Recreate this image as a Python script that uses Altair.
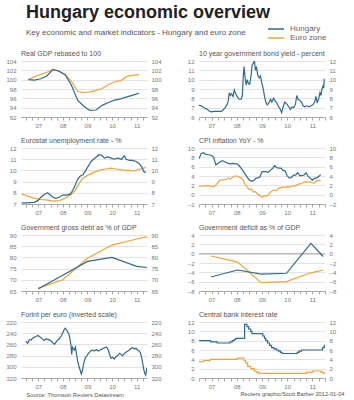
import altair as alt
import pandas as pd

FONT = "Liberation Sans"
BLUE = "#2e6b8d"
ORANGE = "#efa434"
SERIES = ["Hungary", "Euro zone"]

# ---------------- data ----------------
GDP_T = [2007.1, 2007.35, 2007.6, 2007.85, 2008.1, 2008.35, 2008.6, 2008.85, 2009.1, 2009.35,
         2009.6, 2009.85, 2010.1, 2010.35, 2010.6, 2010.85, 2011.1, 2011.35, 2011.6]
GDP_HU = [100.0, 99.9, 100.2, 100.8, 102.2, 101.8, 101.0, 98.8, 95.6, 94.3,
          93.4, 93.5, 94.5, 95.1, 95.6, 95.9, 96.3, 96.7, 97.1]
GDP_EU = [100.0, 100.6, 101.1, 101.6, 102.2, 101.8, 101.1, 99.6, 97.5, 97.2,
          97.4, 97.7, 98.1, 98.9, 99.5, 99.8, 100.7, 100.9, 101.1]

BOND_T = [2007.00, 2007.09, 2007.20, 2007.31, 2007.40, 2007.49, 2007.60, 2007.71, 2007.80, 2007.89, 2007.97,
          2008.04, 2008.11, 2008.16, 2008.20, 2008.24, 2008.29, 2008.35, 2008.40, 2008.44, 2008.51, 2008.59,
          2008.67, 2008.72, 2008.76, 2008.79, 2008.83, 2008.87, 2008.91, 2008.96, 2009.01, 2009.07, 2009.11,
          2009.16, 2009.20, 2009.24, 2009.28, 2009.33, 2009.39, 2009.44, 2009.49, 2009.55, 2009.60, 2009.65,
          2009.71, 2009.77, 2009.84, 2009.89, 2009.96, 2010.03, 2010.09, 2010.16, 2010.23, 2010.28, 2010.33,
          2010.40, 2010.48, 2010.56, 2010.63, 2010.69, 2010.76, 2010.83, 2010.88, 2010.93, 2011.00, 2011.07,
          2011.13, 2011.20, 2011.28, 2011.36, 2011.44, 2011.52, 2011.59, 2011.64, 2011.69, 2011.75, 2011.80,
          2011.84, 2011.88, 2011.92, 2011.95, 2011.97]
BOND_HU = [7.25, 7.2, 7.0, 6.85, 6.65, 6.55, 6.6, 6.6, 6.6, 6.6, 6.8,
           7.0, 7.3, 7.7, 8.6, 8.3, 8.5, 8.2, 8.9, 8.6, 8.2, 7.9,
           7.9, 8.3, 10.5, 11.4, 10.2, 9.4, 10.0, 9.6, 9.5, 10.5, 11.6,
           11.8, 12.0, 11.0, 11.4, 10.5, 10.2, 10.4, 9.7, 9.0, 8.2, 7.6,
           7.3, 7.5, 7.9, 7.6, 8.0, 7.7, 7.5, 7.1, 6.8, 6.45, 7.0,
           7.6, 7.4, 7.1, 6.8, 7.1, 7.0, 7.4, 8.3, 7.9, 7.8, 7.6,
           7.2, 7.1, 7.2, 7.1, 7.2, 7.3, 7.6, 8.2, 7.5, 8.0, 8.6,
           8.3, 9.0, 9.3, 9.1, 10.1]

UNEMP_HU_T = [2006.83, 2007.07, 2007.34, 2007.48, 2007.61, 2007.78, 2007.88, 2007.99,
              2008.10, 2008.22, 2008.36, 2008.49, 2008.67, 2008.81, 2008.90, 2008.99,
              2009.10, 2009.21, 2009.32, 2009.43, 2009.54, 2009.65, 2009.75, 2009.86, 2009.97,
              2010.08, 2010.19, 2010.32, 2010.46, 2010.59, 2010.73, 2010.89,
              2011.00, 2011.07, 2011.20, 2011.34, 2011.47, 2011.61, 2011.71, 2011.79, 2011.87]
UNEMP_HU = [7.1, 7.1, 7.15, 7.3, 7.6, 7.9, 8.0, 7.8,
            7.6, 7.5, 7.6, 7.8, 7.8, 7.9, 8.2, 8.6,
            9.2, 9.5, 9.6, 10.0, 10.4, 10.8, 11.0, 11.2, 11.4,
            11.35, 11.1, 11.2, 11.1, 11.0, 11.1, 11.0,
            11.3, 11.0, 10.9, 10.9, 10.8, 10.6, 10.3, 9.9, 9.8]
UNEMP_EU_T = [2006.83, 2007.07, 2007.34, 2007.61, 2007.88, 2008.10, 2008.36, 2008.58, 2008.81,
              2008.99, 2009.10, 2009.21, 2009.32, 2009.54, 2009.75, 2009.97, 2010.19, 2010.46,
              2010.73, 2011.00, 2011.20, 2011.34, 2011.47, 2011.61, 2011.79, 2011.87]
UNEMP_EU = [7.9, 7.7, 7.5, 7.4, 7.35, 7.25, 7.3, 7.5, 7.8,
            8.2, 8.6, 9.0, 9.3, 9.6, 9.8, 10.0, 10.1, 10.2,
            10.1, 10.0, 10.0, 9.95, 10.0, 10.1, 10.2, 10.3]

MONTHS = [round(y + m / 12, 3) for y in range(2007, 2012) for m in range(12)][:59]
CPI_HU = [7.7, 8.8, 9.0, 8.7, 8.6, 8.5, 8.4, 8.0, 6.4, 6.7, 7.0, 7.3,
          7.1, 6.9, 6.7, 6.6, 6.7, 6.6, 6.6, 6.3, 5.7, 5.1, 4.4, 3.7,
          3.1, 2.9, 3.0, 3.5, 3.6, 3.8, 4.9, 5.0, 4.9, 4.8, 5.2, 5.6,
          6.2, 5.8, 5.7, 5.7, 5.2, 5.1, 4.0, 3.6, 3.7, 4.2, 4.2, 4.7,
          4.1, 4.1, 4.2, 4.7, 3.9, 3.5, 3.1, 3.5, 3.6, 3.9, 4.3]
CPI_EU = [1.8, 1.8, 1.9, 1.9, 1.9, 1.9, 1.8, 1.7, 2.1, 2.6, 3.1, 3.1,
          3.2, 3.3, 3.6, 3.3, 3.7, 4.0, 4.0, 3.8, 3.6, 3.2, 2.1, 1.6,
          1.1, 1.2, 0.6, 0.6, 0.0, -0.1, -0.6, -0.2, -0.3, -0.1, 0.5, 0.9,
          1.0, 0.9, 1.4, 1.5, 1.6, 1.5, 1.7, 1.6, 1.8, 1.9, 1.9, 2.2,
          2.3, 2.4, 2.7, 2.8, 2.7, 2.7, 2.5, 2.5, 3.0, 3.0, 3.0]

DEBT_T = [2007.5, 2008.5, 2009.5, 2010.5, 2011.5, 2011.92]
DEBT_HU = [66.0, 72.0, 78.2, 80.0, 76.0, 75.5]
DEBT_EU = [66.2, 70.0, 79.6, 85.5, 88.2, 89.2]

DEF_T = [2007.47, 2008.53, 2009.47, 2010.47, 2011.44, 2011.93]
DEF_HU = [-5.0, -3.5, -4.4, -4.2, 2.2, -0.6]
DEF_EU = [-0.5, -1.8, -6.2, -6.0, -4.1, -3.5]
ZERO = [0]

FX_T = [2007.00, 2007.07, 2007.14, 2007.21, 2007.27, 2007.34, 2007.41, 2007.48, 2007.55, 2007.61,
        2007.68, 2007.75, 2007.82, 2007.88, 2007.95,
        2008.02, 2008.09, 2008.16, 2008.22, 2008.29, 2008.36, 2008.43, 2008.49, 2008.56, 2008.60,
        2008.66, 2008.70, 2008.75, 2008.79, 2008.83, 2008.86, 2008.89, 2008.93, 2008.97,
        2009.01, 2009.05, 2009.10, 2009.16, 2009.21, 2009.25, 2009.29, 2009.33, 2009.37, 2009.43,
        2009.48, 2009.54, 2009.62, 2009.70, 2009.78, 2009.86, 2009.94,
        2010.02, 2010.11, 2010.19, 2010.27, 2010.35, 2010.40, 2010.46, 2010.53, 2010.59, 2010.66,
        2010.73, 2010.80, 2010.87, 2010.93,
        2011.00, 2011.07, 2011.14, 2011.20, 2011.27, 2011.34, 2011.41, 2011.47, 2011.54, 2011.61,
        2011.66, 2011.71, 2011.75, 2011.79, 2011.83, 2011.87, 2011.90, 2011.92]
FX_HU = [254, 258, 252, 252, 249, 247, 246, 244, 246, 248, 251, 253, 250, 251, 252,
         254, 257, 260, 256, 252, 250, 245, 240, 233, 231, 235, 238, 242, 250, 262, 278, 265, 268, 270,
         265, 275, 290, 300, 307, 313, 308, 298, 290, 282, 280, 276, 272, 270, 272, 269, 272,
         270, 268, 266, 265, 270, 278, 285, 283, 286, 282, 280, 276, 278, 280,
         276, 274, 272, 270, 267, 266, 268, 267, 270, 272, 276, 285, 295, 305, 312, 315, 305, 302]

RATE_HU_T = [2007.00, 2007.46, 2007.72, 2008.23, 2008.32, 2008.40, 2008.46, 2008.81, 2008.90, 2008.97,
             2009.05, 2009.10, 2009.53, 2009.60, 2009.65, 2009.72, 2009.80, 2009.88, 2009.97, 2010.07,
             2010.15, 2010.23, 2010.30, 2010.90, 2010.97, 2011.07, 2011.90, 2011.97, 2012.00]
RATE_HU = [8.0, 7.75, 7.5, 7.75, 8.0, 8.25, 8.5, 11.5, 11.0, 10.5,
           10.0, 9.5, 9.0, 8.5, 8.0, 7.5, 7.0, 6.5, 6.25, 6.0,
           5.75, 5.5, 5.25, 5.5, 5.75, 6.0, 6.5, 7.0, 7.0]
RATE_EU_T = [2007.00, 2007.19, 2007.45, 2008.52, 2008.78, 2008.85, 2008.93, 2009.05, 2009.19, 2009.27,
             2009.37, 2011.27, 2011.52, 2011.84, 2011.94, 2012.00]
RATE_EU = [3.5, 3.75, 4.0, 4.25, 3.75, 3.25, 2.5, 2.0, 1.5, 1.25, 1.0, 1.25, 1.5, 1.25, 1.0, 1.0]

TITLE = "Hungary economic overview"
SUBTITLE = "Key economic and market indicators - Hungary and euro zone"
SOURCE = "Source: Thomson Reuters Datastream"
CREDIT = "Reuters graphic/Scott Barber 2012-01-04"

# ---------------- layout ----------------
LEFT_DOM = [2006.8, 2011.92]
RIGHT_DOM = [2007.0, 2012.0]
W, H = 126, 56
LABEL_EXPR = "datum.value % 1 == 0.5 ? substring(format(floor(datum.value), 'd'), 2, 4) : ''"


def series_df(hu_t, hu_v, eu_t=None, eu_v=None):
    parts = []
    if eu_t is not None:
        parts.append(pd.DataFrame({"t": eu_t, "v": eu_v, "s": "Euro zone"}))
    parts.append(pd.DataFrame({"t": hu_t, "v": hu_v, "s": "Hungary"}))
    return pd.concat(parts, ignore_index=True)


LEGEND = alt.Legend(orient="none", legendX=250, legendY=-37, title=None, labelFont=FONT,
                    labelFontSize=8, labelColor="#666", symbolType="M-2,0L2,0", symbolSize=64,
                    symbolStrokeWidth=1.5, rowPadding=0, labelOffset=9)


def x_axis(dom, foot=None):
    vals = [2007 + 0.25 * q for q in range(21) if dom[0] <= 2007 + 0.25 * q <= dom[1]]
    kw = dict(values=vals, labelExpr=LABEL_EXPR, tickSize=3, tickColor="#aaa", domainColor="#aaa",
              labelFont=FONT, labelFontSize=6, labelColor="#777", labelPadding=2,
              labelOverlap=False, labelFlush=False, grid=False)
    if foot is not None:
        kw.update(title=foot[0], titleFont=FONT, titleFontSize=5.7, titleFontWeight="normal",
                  titleColor="#555", titleAlign=foot[1], titleX=foot[2], titleY=foot[3],
                  titleBaseline="middle", titleAnchor="start")
    else:
        kw.update(title=None)
    return alt.Axis(**kw)


def panel(df, title, dom, ydom, yvals, reverse=False, foot=None, step=False, zero=False):
    xenc = alt.X("t:Q", scale=alt.Scale(domain=dom, nice=False, zero=False), axis=x_axis(dom, foot))
    ysc = alt.Scale(domain=ydom, nice=False, zero=False, reverse=reverse)
    lab = dict(labelFont=FONT, labelFontSize=6, labelColor="#777", ticks=False, domain=False,
               values=yvals, title=None)
    yl = alt.Y("v:Q", scale=ysc, axis=alt.Axis(orient="left", grid=True, gridColor="#dcdcdc",
                                              gridWidth=0.8, labelPadding=5, **lab))
    yr = alt.Y("v:Q", scale=ysc, axis=alt.Axis(orient="right", grid=False, labelPadding=4, **lab))
    interp = "step-after" if step else "linear"
    col = alt.Color("s:N", scale=alt.Scale(domain=SERIES, range=[BLUE, ORANGE]), legend=LEGEND)
    base = alt.Chart(df)
    a = base.mark_line(strokeWidth=1.2, interpolate=interp, clip=True).encode(x=xenc, y=yl, color=col)
    b = base.mark_line(opacity=0, interpolate=interp, clip=True).encode(x=xenc, y=yr, detail="s:N")
    layers = [a, b]
    if zero:
        rule = alt.Chart(pd.DataFrame({"v": ZERO})).mark_rule(color="#999", strokeWidth=0.8).encode(
            y=alt.Y("v:Q", scale=ysc, axis=None))
        layers = [rule, a, b]
    return alt.layer(*layers).resolve_axis(y="independent").properties(
        width=W, height=H,
        title=alt.TitleParams(title, anchor="start", frame="group", font=FONT, fontSize=7,
                              fontWeight="normal", color="#555", baseline="bottom", offset=-6))


panels = [
    panel(series_df(GDP_T, GDP_HU, GDP_T, GDP_EU), "Real GDP rebased to 100", LEFT_DOM,
          [92, 104], list(range(92, 105, 2))),
    panel(series_df(BOND_T, BOND_HU), "10 year government bond yield - percent", RIGHT_DOM,
          [6, 12], list(range(6, 13))),
    panel(series_df(UNEMP_HU_T, UNEMP_HU, UNEMP_EU_T, UNEMP_EU), "Eurostat unemployment rate - %",
          LEFT_DOM, [7, 12], list(range(7, 13))),
    panel(series_df(MONTHS, CPI_HU, MONTHS, CPI_EU), "CPI inflation YoY - %", RIGHT_DOM,
          [-2, 10], list(range(-2, 11, 2))),
    panel(series_df(DEBT_T, DEBT_HU, DEBT_T, DEBT_EU), "Government gross debt as % of GDP", LEFT_DOM,
          [65, 90], list(range(65, 91, 5))),
    panel(series_df(DEF_T, DEF_HU, DEF_T, DEF_EU), "Government deficit as % of GDP", RIGHT_DOM,
          [-8, 4], list(range(-8, 5, 2)), zero=True),
    panel(series_df(FX_T, FX_HU), "Forint per euro (inverted scale)", LEFT_DOM,
          [220, 320], list(range(220, 321, 20)), reverse=True, foot=(SOURCE, "left", 5, 16)),
    panel(series_df(RATE_HU_T, RATE_HU, RATE_EU_T, RATE_EU), "Central bank interest rate", RIGHT_DOM,
          [0, 12], list(range(0, 13, 2)), step=True, foot=(CREDIT, "right", 145, 15)),
]

chart = alt.concat(*panels, columns=2, spacing={"row": 31, "column": 52}, bounds="flush").properties(
    title=alt.TitleParams(TITLE, subtitle=SUBTITLE, anchor="start", frame="group", font=FONT,
                          fontSize=18, fontWeight="bold", color="#222", subtitleFont=FONT,
                          subtitleFontSize=8, subtitleColor="#555", subtitlePadding=7, offset=-13, dx=5),
    padding={"left": 5, "top": 4, "right": 4, "bottom": 0},
    background="white",
).resolve_scale(color="shared").configure_view(stroke=None)

chart.save("out.html", embed_options={"renderer": "svg", "actions": False})
